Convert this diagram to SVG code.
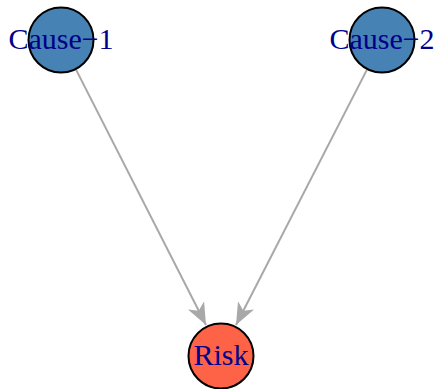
<svg xmlns="http://www.w3.org/2000/svg" width="435" height="389" viewBox="0 0 435 389">
  <style>
    .edge { stroke: #A8A8A8; stroke-width: 2; fill: none; }
    .node circle { stroke: #000000; stroke-width: 2; }
    .cause circle { fill: #4682B4; }
    .risk circle { fill: #FF6347; }
    .label { font-family: "Liberation Serif", "Times New Roman", serif; font-size: 30px; fill: #00008B; text-anchor: middle; dominant-baseline: central; }
  </style>
  <defs>
    <marker id="arrow" viewBox="0 0 24 24" refX="22" refY="12" markerWidth="24" markerHeight="24" markerUnits="userSpaceOnUse" orient="auto">
      <path d="M0,3 L22,12 L0,21 L6,12 Z" fill="#A8A8A8"/>
    </marker>
  </defs>
  <g id="connectors">
    <line class="edge" x1="75.9" y1="69.4" x2="206" y2="325" marker-end="url(#arrow)"/>
    <line class="edge" x1="367.1" y1="69.4" x2="236" y2="325" marker-end="url(#arrow)"/>
  </g>
  <g id="cause-1" class="node cause">
    <circle cx="61" cy="40" r="32.5"/>
    <text class="label" x="61" y="38.5">Cause−1</text>
  </g>
  <g id="cause-2" class="node cause">
    <circle cx="382" cy="40" r="32.5"/>
    <text class="label" x="382" y="38.5">Cause−2</text>
  </g>
  <g id="risk" class="node risk">
    <circle cx="221" cy="356" r="32.5"/>
    <text class="label" x="221" y="354.5">Risk</text>
  </g>
</svg>
